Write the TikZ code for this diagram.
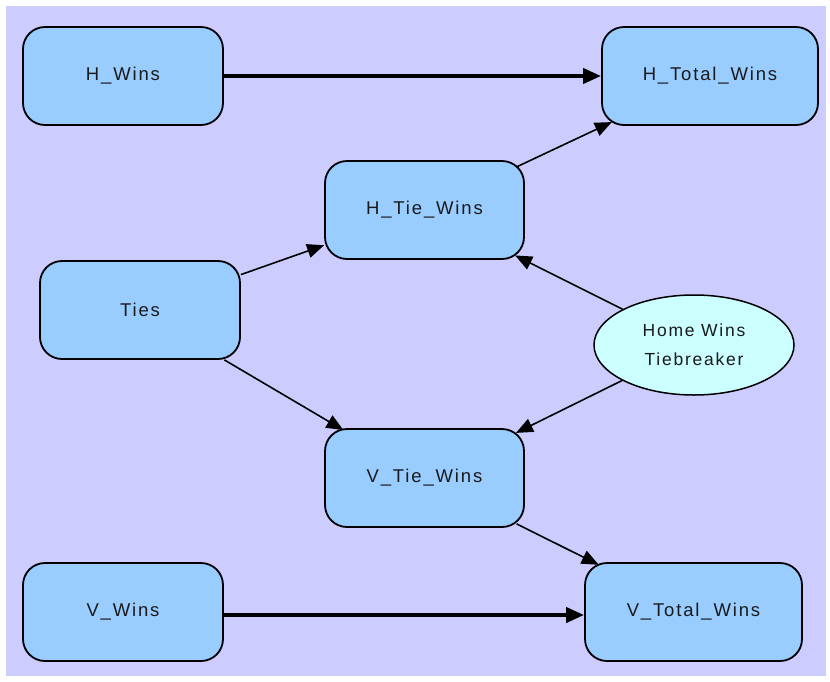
\documentclass[tikz,border=0pt]{standalone}
\usepackage{fontspec}
\setmainfont[LetterSpace=10]{Liberation Sans}
\usetikzlibrary{arrows.meta,shapes.geometric}
\definecolor{bgc}{HTML}{CCCCFF}
\definecolor{boxc}{HTML}{99CCFF}
\definecolor{ellc}{HTML}{CCFFFF}
\definecolor{txtc}{HTML}{1A1A1A}
\tikzset{
  varbox/.style={draw=black, line width=1.8pt, fill=boxc, rounded corners=22pt,
    minimum width=200pt, minimum height=98pt, inner sep=0pt,
    text=txtc, font=\fontsize{18.5}{22}\selectfont},
  decbox/.style={draw=black, line width=1.5pt, fill=ellc, ellipse,
    minimum width=200pt, minimum height=100pt, inner sep=0pt, align=center,
    text=txtc, font=\fontsize{17.5}{29}\selectfont},
  thin/.style={line width=1.6pt, -{Triangle[length=17pt,width=14pt]}},
  thick/.style={line width=4pt, -{Triangle[length=18pt,width=15pt]}}
}
\begin{document}
\begin{tikzpicture}[x=1pt,y=-1pt]
\useasboundingbox (0,0) rectangle (830,681);
\fill[white] (0,0) rectangle (830,681);
\fill[bgc] (6,6) rectangle (826,676);

\node[varbox] (hw) at (123,76) {H\_Wins};
\node[varbox, minimum width=216pt] (htw) at (710,76) {H\_Total\_Wins};
\node[varbox, minimum width=199pt] (htie) at (424.5,210) {H\_Tie\_Wins};
\node[varbox] (ties) at (140,310) {Ties};
\node[decbox] (home) at (694,345) {Home Wins\\Tiebreaker};
\node[varbox, minimum width=199pt] (vtie) at (424.5,478) {V\_Tie\_Wins};
\node[varbox] (vw) at (123,612) {V\_Wins};
\node[varbox, minimum width=217pt] (vtw) at (693.5,612) {V\_Total\_Wins};

\draw[thick] (hw) -- (htw);
\draw[thick] (vw.east) ++(0,3) coordinate (vwe) (vwe) -- (vtw.west |- vwe);
\draw[thin, shorten <=-9pt, shorten >=-9pt] (htie) -- (htw);
\draw[thin] (ties) -- (htie);
\draw[thin, shorten >=-4pt] (ties) -- (vtie);
\draw[thin, shorten >=-10pt] (home) -- (htie);
\draw[thin, shorten >=-10pt] (home) -- (vtie);
\draw[thin, shorten <=-9pt, shorten >=-6pt] (vtie) -- (vtw);
\end{tikzpicture}
\end{document}
